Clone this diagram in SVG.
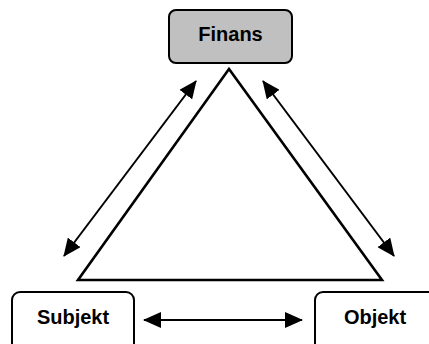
<svg xmlns="http://www.w3.org/2000/svg" width="429" height="344" viewBox="0 0 429 344">
<style>
.box{fill:#fff;stroke:#000;stroke-width:2}
.lbl{font-family:"Liberation Sans",Arial,sans-serif;font-weight:bold;font-size:20px;text-anchor:middle;fill:#000}
.conn{stroke:#000;stroke-width:2;fill:none}
</style>
<defs>
<marker id="ah" markerUnits="userSpaceOnUse" markerWidth="18" markerHeight="16" refX="17" refY="8" orient="auto-start-reverse">
<path d="M0,0 L18,8 L0,16 Z" fill="#000"/>
</marker>
</defs>
<g id="triangle">
<polygon points="229,69 78,280 382,280" fill="none" stroke="#000" stroke-width="2.6" stroke-linejoin="miter"/>
</g>
<g id="connectors">
<line class="conn" x1="64" y1="256" x2="196" y2="81" marker-start="url(#ah)" marker-end="url(#ah)"/>
<line class="conn" x1="263" y1="81" x2="394" y2="256" marker-start="url(#ah)" marker-end="url(#ah)"/>
<line class="conn" x1="144" y1="320" x2="302" y2="320" marker-start="url(#ah)" marker-end="url(#ah)"/>
</g>
<g id="finans">
<rect x="169" y="10" width="123" height="53" rx="7" fill="#c0c0c0" stroke="#000" stroke-width="2"/>
<text class="lbl" x="230.5" y="41">Finans</text>
</g>
<g id="subjekt">
<rect class="box" x="12" y="292" width="122" height="62" rx="8"/>
<text class="lbl" x="73" y="324">Subjekt</text>
</g>
<g id="objekt">
<rect class="box" x="315" y="292" width="124" height="62" rx="8"/>
<text class="lbl" x="375" y="324">Objekt</text>
</g>
</svg>
